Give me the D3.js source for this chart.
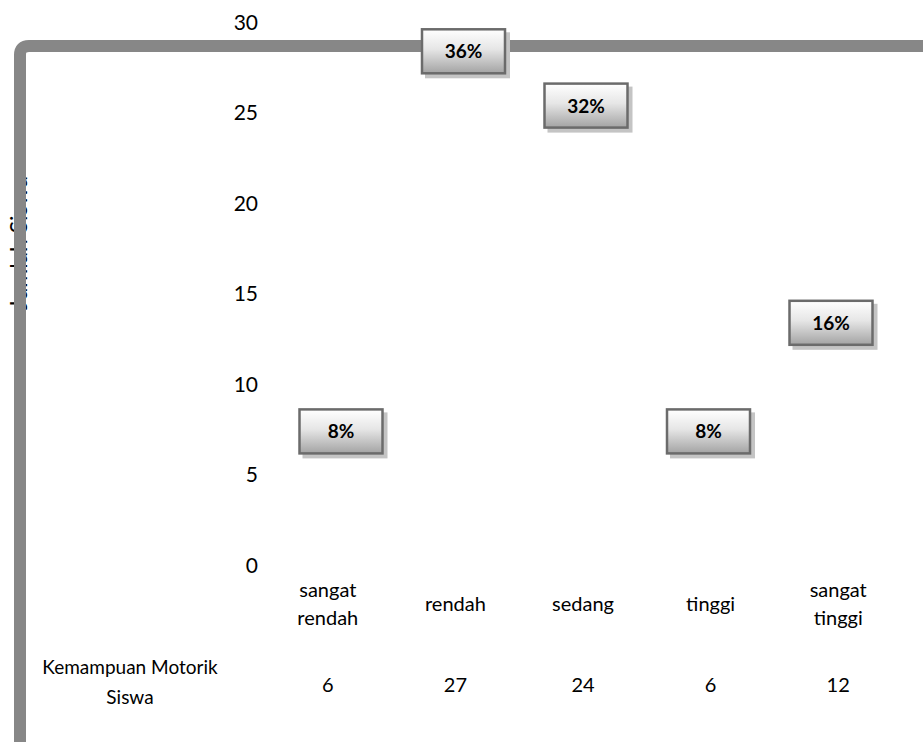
<!DOCTYPE html>
<html lang="en">
    <head>
        <meta charset="utf-8">
        <title>Kemampuan Motorik Siswa</title>
        <script type="text/javascript" src="https://cdn.jsdelivr.net/npm/d3@7"></script>
        <style type="text/css">
            body { margin: 0; background: #fff; }
            svg { display: block; }
            text { font-family: Lato, "Open Sans", sans-serif; fill: #000; }
        </style>
    </head>
    <body>
        <script type="text/javascript">
            var w = 923;
            var h = 742;

            //Data
            var categories = ["sangat rendah", "rendah", "sedang", "tinggi", "sangat tinggi"];
            var catLines = [["sangat", "rendah"], ["rendah"], ["sedang"], ["tinggi"], ["sangat", "tinggi"]];
            var values = [6, 27, 24, 6, 12];
            var percents = ["8%", "36%", "32%", "8%", "16%"];
            var seriesName = ["Kemampuan Motorik", "Siswa"];
            var yTicks = [0, 5, 10, 15, 20, 25, 30];
            var yTitle = "Jumlah Siswa";

            var xScale = d3.scaleBand()
                .domain(categories)
                .range([266, 904]);

            // data labels sit slightly off the band centres in the original
            var labelScale = d3.scalePoint()
                .domain(categories)
                .range([341, 831]);

            var yScale = d3.scaleLinear()
                .domain([0, 30])
                .range([565, 22]);

            var svg = d3.select("body")
                .append("svg")
                .attr("width", w)
                .attr("height", h);

            var defs = svg.append("defs");
            var grad = defs.append("linearGradient")
                .attr("id", "boxfill")
                .attr("x1", 0).attr("y1", 0).attr("x2", 0).attr("y2", 1);
            grad.append("stop").attr("offset", "0%").attr("stop-color", "#ffffff");
            grad.append("stop").attr("offset", "45%").attr("stop-color", "#e6e6e6");
            grad.append("stop").attr("offset", "100%").attr("stop-color", "#a3a3a3");

            // y axis title (mostly hidden under the frame)
            svg.append("text")
                .attr("transform", "translate(27," + 243 + ") rotate(-90)")
                .attr("text-anchor", "middle")
                .attr("font-size", "23px")
                .text(yTitle);

            // frame
            svg.append("path")
                .attr("d", "M20," + (h + 20) + " L20,55 Q20,46 29,46 L" + (w + 20) + ",46")
                .attr("fill", "none")
                .attr("stroke", "#878787")
                .attr("stroke-width", 12);

            // y tick labels
            var yAxis = d3.axisLeft(yScale)
                .tickValues(yTicks)
                .tickSize(0)
                .tickPadding(0);

            var gy = svg.append("g")
                .attr("transform", "translate(258,0)")
                .call(yAxis);
            gy.select(".domain").remove();
            gy.selectAll("text")
                .attr("font-size", "21px")
                .attr("font-family", "Lato, sans-serif")
                .attr("fill", "#000")
                .attr("dy", "0.35em");

            // category labels
            var cat = svg.selectAll(".cat")
                .data(categories)
                .enter()
                .append("text")
                .attr("class", "cat")
                .attr("text-anchor", "middle")
                .attr("font-size", "20px");
            cat.each(function(d, i) {
                var lines = catLines[i];
                var t = d3.select(this);
                var y0 = lines.length === 1 ? 611 : 597;
                lines.forEach(function(l, j) {
                    t.append("tspan")
                        .attr("x", xScale(d) + xScale.bandwidth() / 2 - 2)
                        .attr("y", y0 + j * 28)
                        .text(l);
                });
            });

            // data table row
            var rowName = svg.append("text")
                .attr("text-anchor", "middle")
                .attr("font-size", "19px");
            seriesName.forEach(function(l, j) {
                rowName.append("tspan")
                    .attr("x", 130)
                    .attr("y", 674 + j * 30)
                    .text(l);
            });

            svg.selectAll(".val")
                .data(values)
                .enter()
                .append("text")
                .attr("class", "val")
                .attr("text-anchor", "middle")
                .attr("font-size", "20px")
                .attr("x", function(d, i) { return xScale(categories[i]) + xScale.bandwidth() / 2 - 2; })
                .attr("y", 692)
                .text(function(d) { return d; });

            // data labels
            var bw = 85, bh = 46;
            var lab = svg.selectAll(".lab")
                .data(values)
                .enter()
                .append("g")
                .attr("class", "lab")
                .attr("transform", function(d, i) {
                    return "translate(" + (labelScale(categories[i]) - bw / 2) + "," + (yScale(d) - 2 - bh) + ")";
                });
            lab.append("rect")
                .attr("x", 4).attr("y", 4)
                .attr("width", bw).attr("height", bh)
                .attr("fill", "#c4c4c4");
            lab.append("rect")
                .attr("x", 1).attr("y", 1)
                .attr("width", bw - 2).attr("height", bh - 2)
                .attr("fill", "url(#boxfill)")
                .attr("stroke", "#6b6b6b")
                .attr("stroke-width", 2.5);
            lab.append("text")
                .attr("x", bw / 2)
                .attr("y", bh / 2 + 7)
                .attr("text-anchor", "middle")
                .attr("font-size", "19px")
                .attr("font-weight", "bold")
                .text(function(d, i) { return percents[i]; });
        </script>
    </body>
</html>
